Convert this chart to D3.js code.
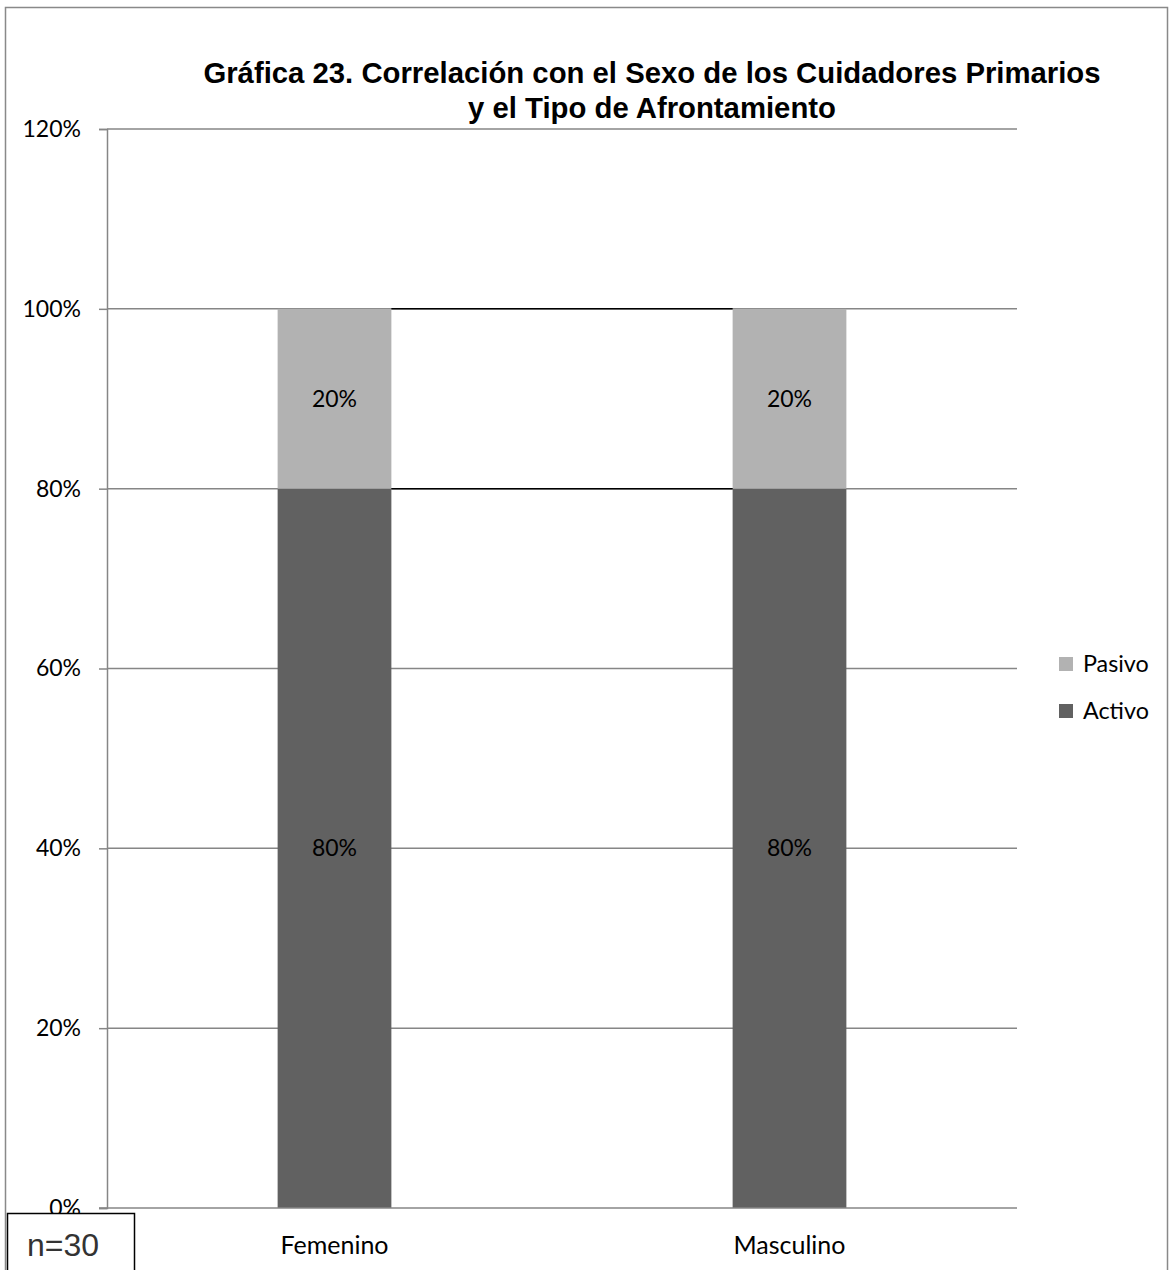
<!DOCTYPE html>
<html><head><meta charset="utf-8">
<script src="https://cdn.jsdelivr.net/npm/d3@7"></script>
<style>body{margin:0;background:#fff}svg{display:block}</style>
</head><body>
<script>
const categories = ["Femenino", "Masculino"];
const seriesNames = ["Activo", "Pasivo"];
const activo = [0.80, 0.80];
const pasivo = [0.20, 0.20];
const yTicks = [0, 0.2, 0.4, 0.6, 0.8, 1.0, 1.2];
const titleLines = ["Gráfica 23. Correlación con el Sexo de los Cuidadores Primarios", "y el Tipo de Afrontamiento"];
const colors = {Activo: "#616161", Pasivo: "#b2b2b2"};

const W = 1170, H = 1270;
const svg = d3.select("body").append("svg").attr("width", W).attr("height", H);
const font = "Lato, 'Open Sans', sans-serif";

// outer frame
svg.append("rect").attr("x", 5.5).attr("y", 7.5).attr("width", 1162).attr("height", 1300)
  .attr("fill", "none").attr("stroke", "#898989").attr("stroke-width", 1.5);

const L = 107, R = 1017, T = 129, B = 1208;
const y = d3.scaleLinear().domain([0, 1.2]).range([B, T]);
const x = d3.scaleBand().domain(categories).range([L, R]).padding(0);
const barW = x.bandwidth() * 0.25;

// gridlines
svg.append("g").selectAll("line").data(yTicks.filter(d => d > 0)).join("line")
  .attr("x1", L).attr("x2", R).attr("y1", d => y(d)).attr("y2", d => y(d))
  .attr("stroke", "#868686").attr("stroke-width", 1.5);

// y axis
const yAxis = svg.append("g").attr("transform", `translate(${L},0)`)
  .call(d3.axisLeft(y).tickValues(yTicks).tickFormat(d3.format(".0%")).tickSize(8).tickPadding(18));
yAxis.select(".domain").attr("stroke", "#868686").attr("stroke-width", 1.5);
yAxis.selectAll(".tick line").attr("stroke", "#868686").attr("stroke-width", 1.5);
yAxis.selectAll(".tick text").attr("font-family", font).attr("font-size", 23).attr("fill", "#000");

// stacked bars
const rows = categories.map((c, i) => ({cat: c, Activo: activo[i], Pasivo: pasivo[i]}));
const stacked = d3.stack().keys(seriesNames)(rows);
const g = svg.append("g");
stacked.forEach(s => {
  g.selectAll(null).data(s).join("rect")
    .attr("x", d => x(d.data.cat) + (x.bandwidth() - barW) / 2)
    .attr("width", barW)
    .attr("y", d => y(d[1])).attr("height", d => y(d[0]) - y(d[1]))
    .attr("fill", colors[s.key]);
});

// series lines between bars
stacked.forEach(s => {
  for (let i = 0; i < s.length - 1; i++) {
    svg.append("line")
      .attr("x1", x(categories[i]) + (x.bandwidth() + barW) / 2)
      .attr("x2", x(categories[i + 1]) + (x.bandwidth() - barW) / 2)
      .attr("y1", y(s[i][1])).attr("y2", y(s[i + 1][1]))
      .attr("stroke", "#000").attr("stroke-width", 1.5);
  }
});

// data labels
stacked.forEach(s => {
  svg.append("g").selectAll("text").data(s).join("text")
    .attr("x", d => x(d.data.cat) + x.bandwidth() / 2)
    .attr("y", d => (y(d[0]) + y(d[1])) / 2 + 8)
    .attr("text-anchor", "middle").attr("font-family", font).attr("font-size", 23)
    .text(d => d3.format(".0%")(d[1] - d[0]));
});

// x axis
svg.append("line").attr("x1", L - 8).attr("x2", R).attr("y1", B).attr("y2", B)
  .attr("stroke", "#868686").attr("stroke-width", 1.5);
svg.append("g").selectAll("text").data(categories).join("text")
  .attr("x", d => x(d) + x.bandwidth() / 2).attr("y", 1254)
  .attr("text-anchor", "middle").attr("font-family", font).attr("font-size", 25).text(d => d);

// title
svg.append("g").selectAll("text").data(titleLines).join("text")
  .attr("x", 652).attr("y", (d, i) => 83 + i * 35)
  .attr("text-anchor", "middle").attr("font-family", "'Liberation Sans', Arial, sans-serif")
  .attr("font-weight", "bold").attr("font-size", 29.3).text(d => d);

// legend
const legendItems = ["Pasivo", "Activo"];
const lg = svg.append("g").selectAll("g").data(legendItems).join("g")
  .attr("transform", (d, i) => `translate(1059,${657 + i * 47})`);
lg.append("rect").attr("width", 14).attr("height", 14).attr("fill", d => colors[d]);
lg.append("text").attr("x", 24).attr("y", 15).attr("font-family", font).attr("font-size", 23.3).text(d => d);

// n=30 box
svg.append("rect").attr("x", 7.5).attr("y", 1213.5).attr("width", 127).attr("height", 80)
  .attr("fill", "#fff").attr("stroke", "#000").attr("stroke-width", 1.5);
svg.append("text").attr("x", 27).attr("y", 1256).attr("font-family", "'Liberation Sans', Arial, sans-serif")
  .attr("font-size", 32).attr("fill", "#333").text("n=30");
</script>
</body></html>
